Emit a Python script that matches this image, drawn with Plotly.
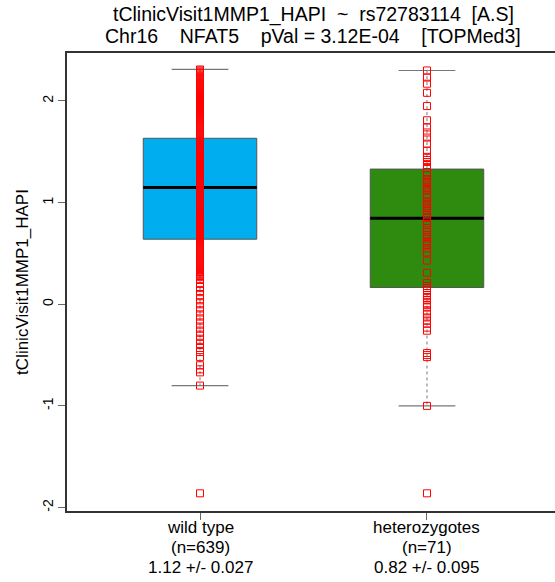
import plotly.graph_objects as go

# ---------------- data ----------------
groups = ["wild type", "heterozygotes"]
n_obs = [639, 71]
means = ["1.12", "0.82"]
ses = ["0.027", "0.095"]

q1 = [0.64, 0.165]
median = [1.148, 0.847]
q3 = [1.633, 1.33]
lower_whisker = [-0.80, -1.00]
upper_whisker = [2.31, 2.30]

box_colors = ["#00AEEF", "#2E8B10"]

wild_type_values = [
    2.31, 2.30, 2.28, 2.26, 2.25, 2.22, 2.20, 2.17, 2.15, 2.12, 2.10, 2.07,
    2.04, 2.02, 1.99, 1.96, 1.94, 1.91, 1.88, 1.86, 1.83, 1.80, 1.78, 1.75,
    1.73, 1.70, 1.68, 1.66, 1.63, 1.61, 1.58, 1.56, 1.54, 1.51, 1.49, 1.47,
    1.44, 1.42, 1.40, 1.37, 1.35, 1.33, 1.30, 1.28, 1.26, 1.24, 1.21, 1.19,
    1.17, 1.15, 1.13, 1.11, 1.09, 1.07, 1.05, 1.02, 1.00, 0.98, 0.96, 0.94,
    0.92, 0.90, 0.87, 0.85, 0.83, 0.81, 0.79, 0.76, 0.74, 0.72, 0.70, 0.67,
    0.65, 0.63, 0.61, 0.58, 0.56, 0.54, 0.51, 0.49, 0.46, 0.44, 0.41, 0.39,
    0.36, 0.34, 0.31, 0.28, 0.25, 0.21, 0.17, 0.13, 0.09, 0.05, 0.01, -0.03,
    -0.07, -0.11, -0.15, -0.19, -0.23, -0.27, -0.31, -0.35, -0.39, -0.43,
    -0.47, -0.52, -0.60, -0.64, -0.67, -0.80, -1.86,
    2.29, 2.27, 2.24, 2.23, 2.21, 2.19, 2.18, 2.16, 2.14, 2.13, 2.11, 2.09,
    2.08, 2.06, 2.05, 2.03, 2.01, 2.00, 1.98, 1.97, 1.95, 1.93, 1.92, 1.90,
    1.89, 1.87, 1.85, 1.84, 1.82, 1.81, 1.79, 1.77, 1.76, 1.74, 1.72, 1.71,
    1.69, 1.67, 1.65, 1.64, 1.62, 1.60, 1.59, 1.57, 1.55, 1.53, 1.52, 1.50,
    1.48, 1.46, 1.45, 1.43, 1.41, 1.39, 1.38, 1.36, 1.34, 1.32, 1.31, 1.29,
    1.27, 1.25, 1.23, 1.22, 1.20, 1.18, 1.16, 1.14, 1.12, 1.10, 1.08, 1.06,
    1.04, 1.03, 1.01, 0.99, 0.97, 0.95, 0.93, 0.91, 0.89, 0.88, 0.86, 0.84,
    0.82, 0.80, 0.78, 0.77, 0.75, 0.73, 0.71, 0.69, 0.68, 0.66, 0.64, 0.62,
    0.60, 0.59, 0.57, 0.55, 0.53, 0.52, 0.50, 0.48, 0.47, 0.45, 0.43, 0.42,
    0.40, 0.38, 0.37, 0.35, 0.33, 0.32, 0.30, 0.29, 0.27,
]

heterozygote_values = [
    2.30, 2.23, 2.17, 2.08, 1.95, 1.81, 1.74, 1.69, 1.64, 1.58, 1.51, 1.45,
    1.42, 1.40, 1.37, 1.34, 1.30, 1.27, 1.22, 1.20, 1.19, 1.17, 1.14, 1.12,
    1.08, 1.05, 1.01, 0.99, 0.97, 0.95, 0.92, 0.88, 0.86, 0.85, 0.82, 0.78,
    0.75, 0.73, 0.71, 0.68, 0.66, 0.62, 0.60, 0.58, 0.55, 0.51, 0.43, 0.31,
    0.21, 0.18, 0.16, 0.14, 0.11, 0.09, 0.06, 0.04, 0.01, -0.01, -0.03,
    -0.07, -0.10, -0.13, -0.16, -0.19, -0.23, -0.26, -0.48, -0.50, -0.52,
    -1.00, -1.86,
]

point_values = [wild_type_values, heterozygote_values]

title_line1 = "tClinicVisit1MMP1_HAPI  ~  rs72783114  [A.S]"
title_line2 = "Chr16    NFAT5    pVal = 3.12E-04    [TOPMed3]"
y_title = "tClinicVisit1MMP1_HAPI"
y_ticks = [-2, -1, 0, 1, 2]

# ---------------- figure ----------------
FONT = "Liberation Sans, Arial, sans-serif"
half_box = 0.25
half_cap = 0.125

fig = go.Figure()
for i, g in enumerate(groups):
    p = i + 1
    fig.add_trace(go.Scatter(
        x=[p - half_box, p + half_box, p + half_box, p - half_box, p - half_box],
        y=[q1[i], q1[i], q3[i], q3[i], q1[i]],
        mode="lines", fill="toself", fillcolor=box_colors[i],
        line=dict(color="#555555", width=1), hoverinfo="skip", showlegend=False))
    fig.add_trace(go.Scatter(
        x=[p, p, None, p, p],
        y=[q3[i], upper_whisker[i], None, q1[i], lower_whisker[i]],
        mode="lines", line=dict(color="#777777", width=1, dash="3px,3px"),
        hoverinfo="skip", showlegend=False))
    fig.add_trace(go.Scatter(
        x=[p - half_cap, p + half_cap, None, p - half_cap, p + half_cap],
        y=[upper_whisker[i], upper_whisker[i], None, lower_whisker[i], lower_whisker[i]],
        mode="lines", line=dict(color="#777777", width=1.2),
        hoverinfo="skip", showlegend=False))
    fig.add_trace(go.Scatter(
        x=[p - half_box, p + half_box], y=[median[i], median[i]],
        mode="lines", line=dict(color="black", width=3),
        hoverinfo="skip", showlegend=False))

for i, vals in enumerate(point_values):
    fig.add_trace(go.Scatter(
        x=[i + 1] * len(vals), y=vals, mode="markers",
        marker=dict(symbol="square-open", size=7, color="red",
                    line=dict(color="red", width=1)),
        showlegend=False))

annotations = []
for i, g in enumerate(groups):
    lines = [g, f"(n={n_obs[i]})", f"{means[i]} +/- {ses[i]}"]
    for k, txt in enumerate(lines):
        annotations.append(dict(
            text=txt, xref="x", yref="paper", x=i + 1, y=0,
            xanchor="center", yanchor="middle", yshift=-(16 + 20 * k),
            showarrow=False, font=dict(size=17, color="black")))
for k, txt in enumerate([title_line1, title_line2]):
    annotations.append(dict(
        text=txt, xref="paper", yref="paper", x=0.5, y=1, xshift=2,
        xanchor="center", yanchor="middle", yshift=(53 - 14) - 22 * k,
        showarrow=False, font=dict(size=19.5, color="black")))

fig.update_layout(
    width=555, height=582,
    margin=dict(l=67, r=0, t=53, b=71),
    paper_bgcolor="white", plot_bgcolor="white",
    font=dict(family=FONT, color="black"),
    xaxis=dict(range=[0.414, 2.564], tickmode="array", tickvals=[1, 2],
               showticklabels=False, ticks="outside", ticklen=7, tickcolor="#666",
               showline=True, linecolor="#333", linewidth=1.5, mirror=True,
               showgrid=False, zeroline=False, automargin=False),
    yaxis=dict(range=[-2.034, 2.472], tickmode="array", tickvals=y_ticks,
               ticktext=[str(t) for t in y_ticks], ticks="outside", ticklen=7,
               tickcolor="#666", tickangle=-90, tickfont=dict(size=14, color="black"),
               showline=True, linecolor="#333", linewidth=1.5, mirror=False,
               showgrid=False, zeroline=False, automargin=False,
               title=dict(text=y_title, font=dict(size=17, color="black"), standoff=7)),
    annotations=annotations,
)

fig.write_html("out.html")
